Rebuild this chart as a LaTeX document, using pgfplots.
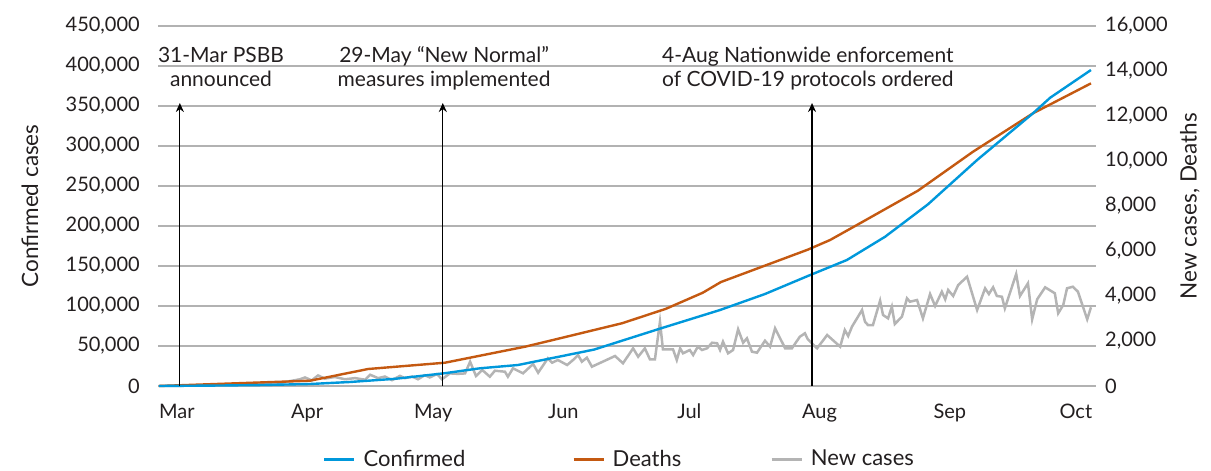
\documentclass[border=0pt]{standalone}
\usepackage{fontspec}
\setmainfont{Lato}
\usepackage{pgfplots}
\usepackage{pgfplotstable}
\pgfplotsset{compat=1.18}
\usetikzlibrary{arrows.meta}
\definecolor{cblue}{RGB}{0,152,219}
\definecolor{corange}{RGB}{196,89,17}
\definecolor{cgrey}{RGB}{180,180,180}
\definecolor{cgrid}{RGB}{178,178,178}
\definecolor{ctext}{RGB}{35,31,32}

\pgfplotstableread{
d v
-4.3 0
10 600
20 1200
31.7 2500
41.2 5000
52 9000
63.8 16000
72.1 22100
81.2 26250
99.3 45500
115.0 71700
129.3 95000
140 115000
150.2 137500
159.5 157500
168.6 186600
178.8 227100
190.5 282500
203.8 340900
207.9 360400
217.6 395000
}\confirmed

\pgfplotstableread{
d v
-4.3 0
31.7 235
45.5 755
63.8 1035
76.9 1523
82.9 1747
91.2 2120
106.0 2790
116.4 3430
125.2 4147
129.5 4620
150.2 6060
155.5 6489
162.6 7230
176.4 8680
189.5 10410
203.8 12120
217.6 13450
}\deaths

\pgfplotstableread{
d v
-4.3 0
5.5 20
15.0 60
22.1 110
25.0 150
29.3 300
30.5 380
32.1 250
33.6 470
35.2 330
37.6 400
40.0 300
42.4 350
44.8 280
46.0 500
47.9 350
49.5 420
51.2 260
53.1 450
54.3 350
56.0 420
57.4 300
59.0 480
60.2 380
61.9 530
63.1 300
65.0 560
66.9 540
68.6 560
69.8 1080
71.2 444
72.7 711
74.5 413
75.7 680
78.1 635
78.8 413
80.0 786
82.4 564
84.8 977
86.0 590
88.3 1230
89.3 1035
90.7 1155
92.9 933
94.3 1155
95.5 1377
96.4 1080
97.6 1258
98.8 858
104.3 1333
106.2 1009
108.6 1675
109.8 1302
111.4 1675
112.6 1187
113.8 1187
115.0 2858
115.7 1631
118.1 1631
119.0 1155
119.8 1675
120.5 1453
122.1 1600
122.9 1377
124.0 1747
125.0 1600
126.2 1675
127.4 1924
128.6 1898
129.3 1600
130.0 1969
131.2 1453
132.4 1600
133.6 2520
134.8 1924
135.7 2120
136.9 1524
138.1 1480
140.0 2013
141.2 1747
142.4 2564
144.8 1675
146.4 1675
148.3 2190
149.5 2342
150.2 2075
152.4 1675
154.8 2266
157.9 1747
159.0 2488
159.8 2222
160.7 2635
163.1 3377
163.8 2858
164.5 2711
165.7 2711
167.4 3791
168.1 3155
169.3 3008
170.2 3524
170.9 2755
172.6 3080
173.8 3897
174.5 3746
176.2 3822
177.6 3008
179.3 4088
180.5 3555
182.1 4191
182.9 3853
183.6 4266
184.8 4000
186.0 4488
188.1 4857
190.5 3377
192.4 4342
193.3 4088
194.3 4386
195.2 4000
196.4 3968
197.1 3453
199.8 4977
200.7 4000
202.6 4564
203.6 2964
204.8 3853
206.7 4386
209.0 4120
209.8 3231
211.0 3600
211.9 4342
213.3 4413
214.5 4191
216.7 2964
217.6 3497
}\newcases

\begin{document}
\fontsize{20bp}{24bp}\selectfont
\begin{tikzpicture}[font=\fontsize{20bp}{24bp}\selectfont, text=ctext]
\pgfplotsset{set layers,
  common/.style={scale only axis, width=938bp, height=360bp,
    xmin=-4.5, xmax=218.8, at={(0,0)}, anchor=south west,
    axis line style={draw=none}, tick style={draw=none},
    /pgf/number format/assume math mode=true,
    /pgf/number format/fixed,
    /pgf/number format/1000 sep={,},
    scaled y ticks=false, clip=false,
    label style={font=\fontsize{22.5bp}{26bp}\selectfont},
    legend image code/.code={\draw[##1] (0bp,0bp) -- (30bp,0bp);}}}

\begin{axis}[common, ymin=0, ymax=16000, ytick={0,2000,...,16000},
  yticklabel pos=right, hide x axis,
  yticklabel style={anchor=west, inner sep=0pt, xshift=9bp},
  ylabel={New cases, Deaths},
  ylabel style={at={(axis description cs:1.1,0.5)}, anchor=center, rotate=0}]
\addplot[cgrey, line width=2.5bp] table[x=d,y=v] {\newcases};
\addplot[corange, line width=2.4bp] table[x=d,y=v] {\deaths};
\end{axis}

\begin{axis}[common, ymin=0, ymax=450000, ytick={0,50000,...,450000},
  ymajorgrids, grid style={cgrid, line width=1.2bp},
  xtick={0,31,61,92,122,153,184,214},
  xticklabels={Mar,Apr,May,Jun,Jul,Aug,Sep,Oct},
  xticklabel style={anchor=base, inner sep=0pt, yshift=-32bp},
  yticklabel style={anchor=east, inner sep=0pt, xshift=-18bp},
  ylabel={Confirmed cases},
  ylabel style={at={(axis description cs:-0.1365,0.5)}, anchor=center},
  legend columns=3,
  legend style={at={(axis description cs:0.491,-0.204)}, anchor=center,
    draw=none, fill=none, inner sep=0pt,
    nodes={inner sep=0pt},
    font=\fontsize{22bp}{26bp}\selectfont,
    /tikz/every odd column/.append style={column sep=8bp},
    /tikz/column 2/.append style={column sep=107bp},
    /tikz/column 4/.append style={column sep=89bp}}]
\addplot[cblue, line width=2.4bp] table[x=d,y=v] {\confirmed};
\addlegendentry{Confirmed}
\addlegendimage{corange, line width=2.4bp}
\addlegendentry{Deaths}
\addlegendimage{cgrey, line width=2.5bp}
\addlegendentry{New cases}
\draw[black, line width=1.3bp, -{Stealth[length=9bp,width=8bp]}] (axis cs:0.7,0) -- (axis cs:0.7,353750);
\draw[black, line width=1.3bp, -{Stealth[length=9bp,width=8bp]}] (axis cs:63.3,0) -- (axis cs:63.3,353750);
\draw[black, line width=1.3bp, -{Stealth[length=9bp,width=8bp]}] (axis cs:151.2,0) -- (axis cs:151.2,353750);
\begin{scope}[font=\fontsize{21bp}{24bp}\selectfont]
\node[align=center, anchor=base, inner sep=0pt] at (axis cs:10.5,373750) {31-Mar PSBB\\announced};
\node[align=center, anchor=base, inner sep=0pt] at (axis cs:63.6,373750) {29-May “New Normal”\\measures implemented};
\node[align=center, anchor=base, inner sep=0pt] at (axis cs:150.2,373750) {4-Aug Nationwide enforcement\\of COVID-19 protocols ordered};
\end{scope}
\end{axis}
\pgfresetboundingbox
\path[use as bounding box] (-158bp,-85bp) rectangle (1053bp,386bp);
\end{tikzpicture}
\end{document}
